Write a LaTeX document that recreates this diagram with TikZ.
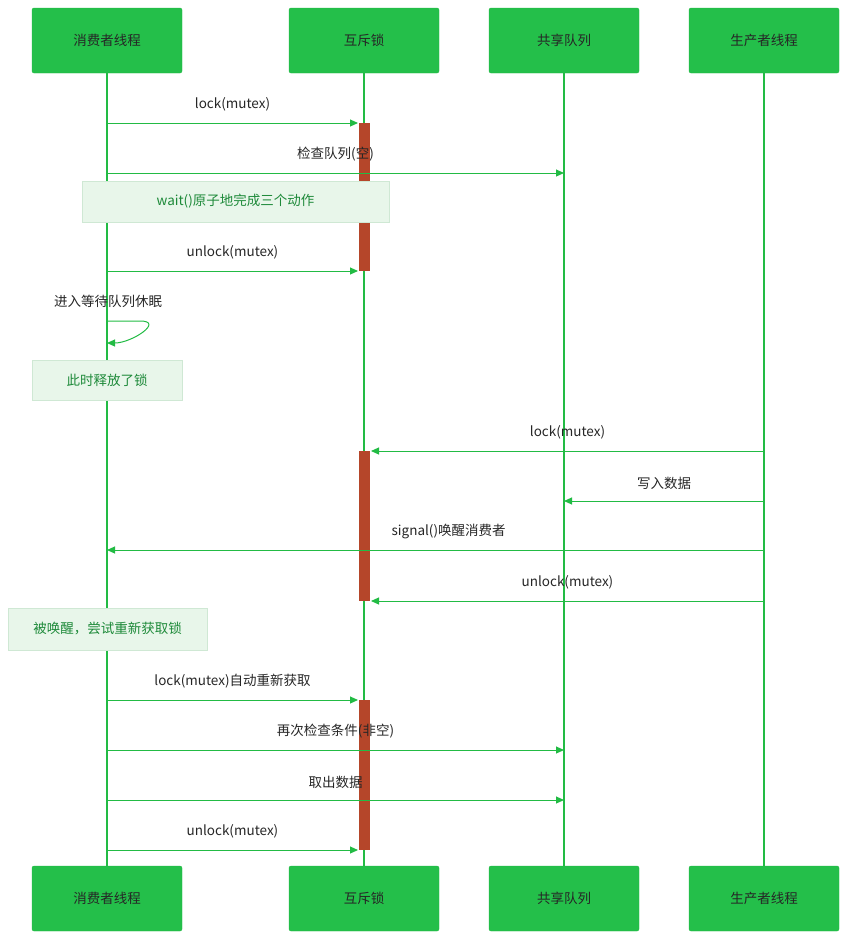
\documentclass[tikz,border=0pt]{standalone}
\usepackage{fontspec}
\setmainfont{Noto Sans CJK SC}
\usetikzlibrary{arrows.meta}
\definecolor{gr}{HTML}{22BB44}
\definecolor{boxg}{HTML}{24BF4A}
\definecolor{act}{HTML}{B5462A}
\definecolor{notef}{HTML}{E8F6EA}
\definecolor{noted}{HTML}{CFE8D4}
\definecolor{notet}{HTML}{1E8A3A}
\begin{document}
\begin{tikzpicture}[x=1pt,y=-1pt,
  every node/.style={font=\fontsize{13.5}{16}\selectfont},
  part/.style={draw=gr,fill=boxg,rounded corners=2pt,minimum width=150pt,minimum height=65pt,inner sep=0pt,text=black!85},
  life/.style={gr,line width=1.2pt},
  msg/.style={gr,line width=1pt,-{Triangle[length=8pt,width=7pt]}},
  lbl/.style={text=black!85,inner sep=1pt},
  note/.style={draw=noted,fill=notef,text=notet,inner sep=0pt},
  actb/.style={fill=act,draw=none}]
\useasboundingbox (0,0) rectangle (847,940);
% participants
\foreach \n/\x/\t in {c/107/消费者线程,m/364/互斥锁,q/564/共享队列,p/764/生产者线程}{
  \node[part] (\n t) at (\x,40.5) {\t};
  \node[part] (\n b) at (\x,898.5) {\t};
  \draw[life] (\n t.south) -- (\n b.north);
}
% activations
\fill[actb] (359,123) rectangle (370,271);
\fill[actb] (359,451) rectangle (370,601);
\fill[actb] (359,700) rectangle (370,850);
% coordinates
\foreach \y in {123,173,271,321,343,451,501,550,601,700,750,800,850}{
  \coordinate (c\y) at (107,\y);
  \coordinate (a\y) at (358,\y);
  \coordinate (r\y) at (371,\y);
  \coordinate (q\y) at (564,\y);
  \coordinate (p\y) at (764,\y);
}
\draw[msg] (c123) -- node[lbl,above=10pt] {lock(mutex)} (a123);
\draw[msg] (c173) -- node[lbl,above=10pt] {检查队列(空)} (q173);
\node[note,minimum width=307pt,minimum height=41pt] (n1) at (235.5,201.5) {wait()原子地完成三个动作};
\draw[msg] (c271) -- node[lbl,above=10pt] {unlock(mutex)} (a271);
\node[lbl] (sl) at (108,301) {进入等待队列休眠};
\draw[msg] (c321) -- (140,321) to[out=0,in=0,looseness=1.6] (c343);
\node[note,minimum width=150pt,minimum height=40pt] (n2) at (107,380) {此时释放了锁};
\draw[msg] (p451) -- node[lbl,above=10pt] {lock(mutex)} (r451);
\draw[msg] (p501) -- node[lbl,above=10pt] {写入数据} (q501);
\draw[msg] (p550) -- node[lbl,above=10pt,pos=0.48] {signal()唤醒消费者} (c550);
\draw[msg] (p601) -- node[lbl,above=10pt] {unlock(mutex)} (r601);
\node[note,minimum width=199pt,minimum height=42pt] (n3) at (107.5,629) {被唤醒，尝试重新获取锁};
\draw[msg] (c700) -- node[lbl,above=10pt] {lock(mutex)自动重新获取} (a700);
\draw[msg] (c750) -- node[lbl,above=10pt] {再次检查条件(非空)} (q750);
\draw[msg] (c800) -- node[lbl,above=10pt] {取出数据} (q800);
\draw[msg] (c850) -- node[lbl,above=10pt] {unlock(mutex)} (a850);
\end{tikzpicture}
\end{document}
